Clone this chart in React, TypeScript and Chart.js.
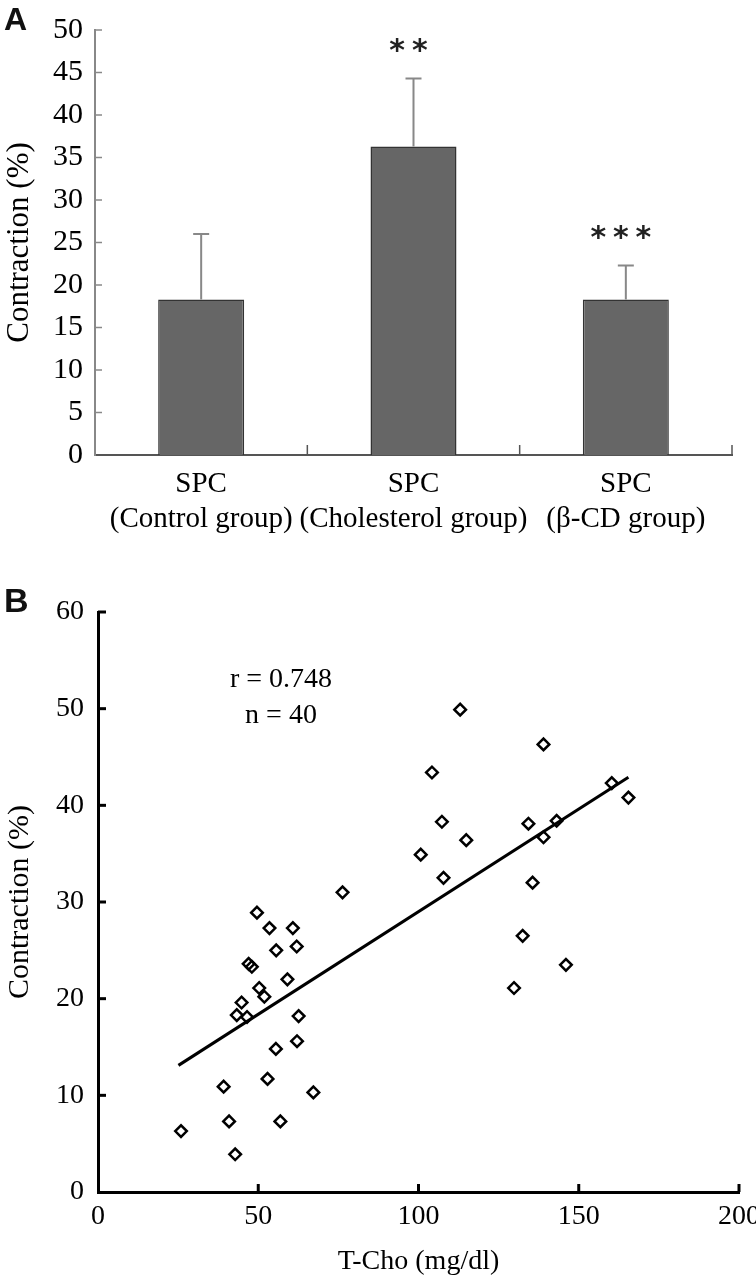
import React, { useEffect, useRef } from 'react';
import { Chart, registerables } from 'chart.js';

Chart.register(...registerables);

// ---------- Panel A data ----------
const groupLabels = [
  ['SPC', '(Control group)'],
  ['SPC', '(Cholesterol group)'],
  ['SPC', '(β-CD group)'],
];
const contractionMeans = [18.3, 36.3, 18.3];
const contractionSD = [7.7, 8.0, 4.0];
const significance = ['', '**', '***'];
const yTicksA = { min: 0, max: 50, step: 5 };

// ---------- Panel B data ----------
const tchoValues = [
  25.9, 39.2, 40.9, 42.8, 56.9, 67.2, 52.9, 55.5, 62.1, 62.6,
  43.3, 46.5, 44.8, 50.3, 51.9, 59.1, 47.0, 48.0, 55.6, 62.0,
  53.5, 60.8, 49.6, 76.3, 113.0, 139.0, 104.2, 160.3, 165.5, 107.3,
  134.3, 143.1, 114.9, 139.0, 100.7, 107.8, 135.6, 132.5, 146.0, 129.8,
];
const contractionValues = [
  6.3, 10.9, 7.3, 3.9, 7.3, 10.3, 11.7, 14.8, 15.6, 18.2,
  18.3, 18.1, 19.6, 21.1, 20.2, 22.0, 23.6, 23.3, 25.0, 25.4,
  27.3, 27.3, 28.9, 31.0, 49.9, 46.3, 43.4, 42.3, 40.8, 38.3,
  38.1, 38.4, 36.4, 36.7, 34.9, 32.5, 32.0, 26.5, 23.5, 21.1,
];
const fitLineX = [25.1, 165.5];
const fitLineY = [13.1, 42.9];
const statsText = ['r = 0.748', 'n = 40'];
const xTicksB = { min: 0, max: 200, step: 50 };
const yTicksB = { min: 0, max: 60, step: 10 };

const SERIF = '"Liberation Serif", "Times New Roman", serif';
const SANS = '"Liberation Sans", Arial, sans-serif';

const inwardTicks = {
  id: 'inwardTicks',
  afterDraw(chart: any, _args: any, opts: any) {
    const { ctx, chartArea } = chart;
    const xs = chart.scales.x;
    const ys = chart.scales.y;
    ctx.save();
    ctx.lineCap = 'butt';
    ctx.strokeStyle = opts.yColor;
    ctx.lineWidth = opts.yWidth;
    ys.ticks.forEach((t: any) => {
      if (t.value === ys.min) return;
      const py = ys.getPixelForValue(t.value);
      ctx.beginPath();
      ctx.moveTo(chartArea.left, py);
      ctx.lineTo(chartArea.left + opts.yLen, py);
      ctx.stroke();
    });
    ctx.strokeStyle = opts.xColor;
    ctx.lineWidth = opts.xWidth;
    if (opts.categoryBoundaries) {
      const n = xs.ticks.length;
      for (let i = 0; i < n; i++) {
        const bx = i < n - 1
          ? (xs.getPixelForValue(i) + xs.getPixelForValue(i + 1)) / 2
          : chartArea.right;
        ctx.beginPath();
        ctx.moveTo(bx, chartArea.bottom);
        ctx.lineTo(bx, chartArea.bottom - opts.xLen);
        ctx.stroke();
      }
    } else {
      xs.ticks.forEach((t: any) => {
        if (t.value === xs.min) return;
        const px = xs.getPixelForValue(t.value);
        ctx.beginPath();
        ctx.moveTo(px, chartArea.bottom);
        ctx.lineTo(px, chartArea.bottom - opts.xLen);
        ctx.stroke();
      });
    }
    ctx.restore();
  },
};

const barExtras = {
  id: 'barExtras',
  afterDatasetsDraw(chart: any) {
    const { ctx } = chart;
    const ys = chart.scales.y;
    const meta = chart.getDatasetMeta(0);
    ctx.save();
    meta.data.forEach((bar: any, i: number) => {
      const cx = bar.x;
      const base = ys.getPixelForValue(contractionMeans[i]);
      const top = ys.getPixelForValue(contractionMeans[i] + contractionSD[i]);
      ctx.strokeStyle = '#888888';
      ctx.lineWidth = 2;
      ctx.beginPath();
      ctx.moveTo(cx, base);
      ctx.lineTo(cx, top);
      ctx.moveTo(cx - 8, top);
      ctx.lineTo(cx + 8, top);
      ctx.stroke();
      const s = significance[i];
      if (s) {
        ctx.fillStyle = '#222222';
        ctx.font = 'bold 30px "DejaVu Sans", sans-serif';
        ctx.textAlign = 'center';
        ctx.textBaseline = 'alphabetic';
        const m = ctx.measureText('*');
        const cy = top - 33;
        const baseline = cy + (m.actualBoundingBoxAscent - m.actualBoundingBoxDescent) / 2;
        const n = s.length;
        for (let j = 0; j < n; j++) {
          const sx = cx - 5 + (j - (n - 1) / 2) * 22.6;
          ctx.fillText('*', sx, baseline);
        }
      }
    });
    ctx.restore();
  },
  afterDraw(chart: any) {
    const { ctx } = chart;
    ctx.save();
    ctx.fillStyle = '#111';
    ctx.font = `bold 32px ${SANS}`;
    ctx.textAlign = 'left';
    ctx.textBaseline = 'alphabetic';
    ctx.fillText('A', 4, 30);
    ctx.restore();
  },
};

const scatterExtras = {
  id: 'scatterExtras',
  afterDraw(chart: any) {
    const { ctx, chartArea } = chart;
    ctx.save();
    ctx.fillStyle = '#111';
    ctx.font = `bold 34px ${SANS}`;
    ctx.textAlign = 'left';
    ctx.textBaseline = 'alphabetic';
    ctx.fillText('B', 4, 52);
    ctx.font = `28px ${SERIF}`;
    ctx.textAlign = 'center';
    ctx.fillStyle = '#000';
    const cx = chartArea.left + 183;
    ctx.fillText(statsText[0], cx, chartArea.top + 75);
    ctx.fillText(statsText[1], cx, chartArea.top + 111);
    ctx.restore();
  },
};

export default function App() {
  const refA = useRef<HTMLCanvasElement>(null);
  const refB = useRef<HTMLCanvasElement>(null);

  useEffect(() => {
    const chartA = new Chart(refA.current as HTMLCanvasElement, {
      type: 'bar',
      data: {
        labels: groupLabels as any,
        datasets: [
          {
            data: contractionMeans,
            backgroundColor: '#666666',
            borderColor: '#333333',
            borderWidth: 1.5,
            barPercentage: 0.405,
            categoryPercentage: 1,
          },
        ],
      },
      options: {
        animation: false,
        responsive: true,
        maintainAspectRatio: false,
        layout: { padding: { top: 29, right: 24, left: 0, bottom: 0 } },
        plugins: {
          legend: { display: false },
          tooltip: { enabled: false },
          inwardTicks: {
            yColor: '#888888', yWidth: 1.5, yLen: 7,
            xColor: '#555555', xWidth: 1.5, xLen: 10,
            categoryBoundaries: true,
          },
        } as any,
        scales: {
          x: {
            grid: { display: false, drawTicks: false },
            border: { display: true, color: '#555555', width: 2 },
            ticks: {
              color: '#000',
              font: { family: SERIF, size: 29, lineHeight: 1.2 },
              padding: 12,
              maxRotation: 0,
              autoSkip: false,
            },
            afterFit: (s: any) => { s.height = 105; },
          },
          y: {
            min: yTicksA.min,
            max: yTicksA.max,
            grid: { display: false, drawTicks: false },
            border: { display: true, color: '#888888', width: 2 },
            ticks: {
              stepSize: yTicksA.step,
              color: '#000',
              font: { family: SERIF, size: 30 },
              padding: 12,
            },
            title: {
              display: true,
              text: 'Contraction (%)',
              color: '#000',
              font: { family: SERIF, size: 31 },
              padding: { top: 1, bottom: 0 },
            },
            afterFit: (s: any) => { s.width = 95; },
          },
        },
      },
      plugins: [barExtras, inwardTicks],
    });

    const chartB = new Chart(refB.current as HTMLCanvasElement, {
      type: 'scatter',
      data: {
        datasets: [
          {
            type: 'line',
            data: fitLineX.map((x, i) => ({ x, y: fitLineY[i] })),
            borderColor: '#000',
            borderWidth: 3,
            pointRadius: 0,
            fill: false,
          } as any,
          {
            data: tchoValues.map((x, i) => ({ x, y: contractionValues[i] })),
            pointStyle: 'rectRot',
            pointRadius: 5.8,
            borderColor: '#000',
            borderWidth: 2.5,
            backgroundColor: 'rgba(255,255,255,0)',
          },
        ],
      },
      options: {
        animation: false,
        responsive: true,
        maintainAspectRatio: false,
        layout: { padding: { top: 52, right: 41, left: 0, bottom: 0 } },
        plugins: {
          legend: { display: false },
          tooltip: { enabled: false },
          inwardTicks: {
            yColor: '#000', yWidth: 3, yLen: 8,
            xColor: '#000', xWidth: 3, xLen: 8,
            categoryBoundaries: false,
          },
        } as any,
        scales: {
          x: {
            type: 'linear',
            min: xTicksB.min,
            max: xTicksB.max,
            grid: { display: false, drawTicks: false },
            border: { display: true, color: '#000', width: 3 },
            ticks: {
              stepSize: xTicksB.step,
              color: '#000',
              font: { family: SERIF, size: 28 },
              padding: 8,
            },
            title: {
              display: true,
              text: 'T-Cho (mg/dl)',
              color: '#000',
              font: { family: SERIF, size: 28 },
              padding: { top: 0, bottom: 4 },
            },
            afterFit: (s: any) => { s.height = 90; },
          },
          y: {
            min: yTicksB.min,
            max: yTicksB.max,
            grid: { display: false, drawTicks: false },
            border: { display: true, color: '#000', width: 3 },
            ticks: {
              stepSize: yTicksB.step,
              color: '#000',
              font: { family: SERIF, size: 28 },
              padding: 14,
            },
            title: {
              display: true,
              text: 'Contraction (%)',
              color: '#000',
              font: { family: SERIF, size: 30 },
              padding: { top: 2, bottom: 0 },
            },
            afterFit: (s: any) => { s.width = 98; },
          },
        },
      },
      plugins: [scatterExtras, inwardTicks],
    });

    return () => {
      chartA.destroy();
      chartB.destroy();
    };
  }, []);

  return (
    <div
      style={{
        position: 'absolute',
        left: 0,
        top: 0,
        width: 756,
        height: 1282,
        overflow: 'hidden',
        background: '#fff',
      }}
    >
      <div style={{ position: 'absolute', left: 0, top: 0, width: 756, height: 560 }}>
        <canvas ref={refA} />
      </div>
      <div style={{ position: 'absolute', left: 0, top: 560, width: 780, height: 722 }}>
        <canvas ref={refB} />
      </div>
    </div>
  );
}
